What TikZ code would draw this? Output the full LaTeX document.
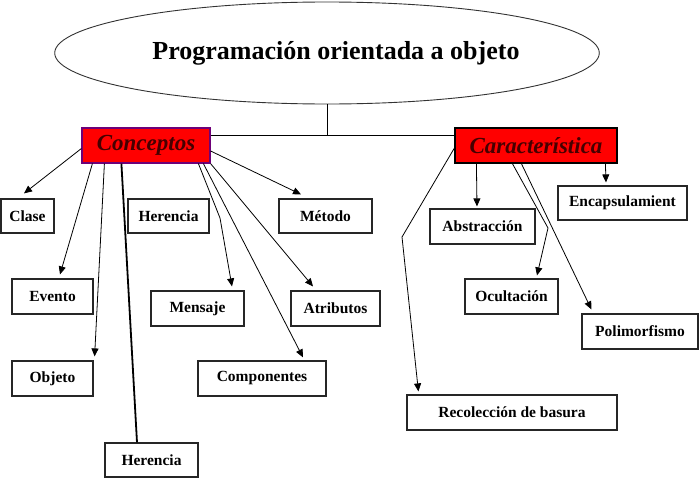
\documentclass[tikz,border=0pt]{standalone}
\usepackage{fontspec}
\setmainfont{Liberation Serif}
\usetikzlibrary{calc,arrows.meta,shapes.geometric}
\definecolor{boxred}{RGB}{255,0,0}
\definecolor{darkmaroon}{RGB}{70,0,0}
\definecolor{conborder}{RGB}{110,0,120}
\tikzset{
  box/.style={draw=black!85, line width=1.2pt, fill=white, inner sep=0pt, font=\fontsize{15.5}{17}\selectfont\bfseries},
  headbox/.style={draw=black, line width=1.2pt, fill=boxred, inner sep=0pt, minimum height=35pt, text=darkmaroon, font=\fontsize{23}{26}\selectfont\bfseries\itshape},
  conn/.style={line width=0.8pt, -{Triangle[length=8pt,width=7pt]}},
  plain/.style={line width=0.8pt}
}
\begin{document}
\begin{tikzpicture}[x=1pt,y=-1pt]
\useasboundingbox (0,0) rectangle (700,479);
% title
\node[ellipse, draw=black!80, line width=0.9pt, minimum width=539pt, minimum height=102pt, inner sep=0pt, font=\fontsize{26}{30}\selectfont\bfseries] (ell) at (327,53) {\hspace*{18pt}Programación orientada a objeto};
% heads
\node[headbox, draw=conborder, minimum width=128pt] (conc) at (146,145.5) {Conceptos};
\node[headbox, minimum width=162pt] (car) at (536,145.5) {Característica};
% join
\coordinate (jn) at (327,135);
\draw[plain] (ell.south) -- (jn);
\draw[line width=1.6pt] ($(conc.east)+(0,-10)$) -- ($(car.west)+(0,-10)$);
% left boxes
\node[box, minimum width=53pt, minimum height=34pt] (clase) at (27.5,216) {Clase};
\node[box, minimum width=81pt, minimum height=34pt] (her1) at (168.5,216) {Herencia};
\node[box, minimum width=93pt, minimum height=34pt] (metodo) at (325.5,216) {Método};
\node[box, minimum width=81pt, minimum height=35pt] (evento) at (52.5,296.5) {Evento};
\node[box, minimum width=93pt, minimum height=35pt] (mensaje) at (197.5,308.5) {Mensaje};
\node[box, minimum width=89pt, minimum height=35pt] (atrib) at (335.5,308.5) {Atributos};
\node[box, minimum width=81pt, minimum height=35pt] (objeto) at (52.5,378.5) {Objeto};
\node[box, minimum width=128pt, minimum height=35pt] (comp) at (262,378.5) {Componentes};
\node[box, minimum width=93pt, minimum height=34pt] (her2) at (151.5,460) {Herencia};
% right boxes
\node[box, minimum width=129pt, minimum height=34pt] (encaps) at (622.5,203) {Encapsulamient};
\node[box, minimum width=105pt, minimum height=35pt] (abstr) at (482.5,226.5) {Abstracción};
\node[box, minimum width=93pt, minimum height=35pt] (ocult) at (511.5,296.5) {Ocultación};
\node[box, minimum width=116pt, minimum height=35pt] (polim) at (640,331.5) {Polimorfismo};
\node[box, minimum width=210pt, minimum height=35pt] (recol) at (512,412.5) {Recolección de basura};
% connectors from Conceptos
\draw[conn] ($(conc.west)+(0,3)$) -- ($(clase.north)+(-3.5,-5)$);
\draw[conn] ($(conc.south west)+(11,0)$) -- ($(evento.north)+(7.5,-4)$);
\draw[conn] ($(conc.south west)+(23,0)$) -- ($(objeto.north east)+(1,-4)$);
\draw[line width=1.8pt] ($(conc.south west)+(40,0)$) -- ($(her2.north)+(-14.5,0)$);
\coordinate (mbend) at (220,218);
\draw[conn] ($(conc.south west)+(117,0)$) -- (mbend) -- ($(mensaje.north)+(34.5,-4)$);
\draw[conn] ($(conc.south west)+(122,0)$) -- ($(comp.north)+(41,-3)$);
\draw[conn] (conc.south east) -- ($(atrib.north)+(-22.5,-4)$);
\draw[conn] ($(conc.east)+(0,5.5)$) -- ($(metodo.north)+(-24.5,-4)$);
% connectors from Caracteristica
\coordinate (rbend) at (402,237);
\draw[conn] ($(car.west)+(0,2.5)$) -- (rbend) -- ($(recol.north west)+(12,-3)$);
\draw[conn] ($(car.south west)+(22,0)$) -- ($(abstr.north)+(-5.5,-2)$);
\coordinate (obend) at (548,228);
\draw[conn] ($(car.south west)+(58,0)$) -- (obend) -- ($(ocult.north)+(25.5,-3)$);
\draw[conn] ($(car.south west)+(67,0)$) -- ($(polim.north west)+(10,-4)$);
\draw[conn] ($(car.south west)+(151,0)$) -- ($(encaps.north)+(-16.5,-3)$);
\end{tikzpicture}
\end{document}
